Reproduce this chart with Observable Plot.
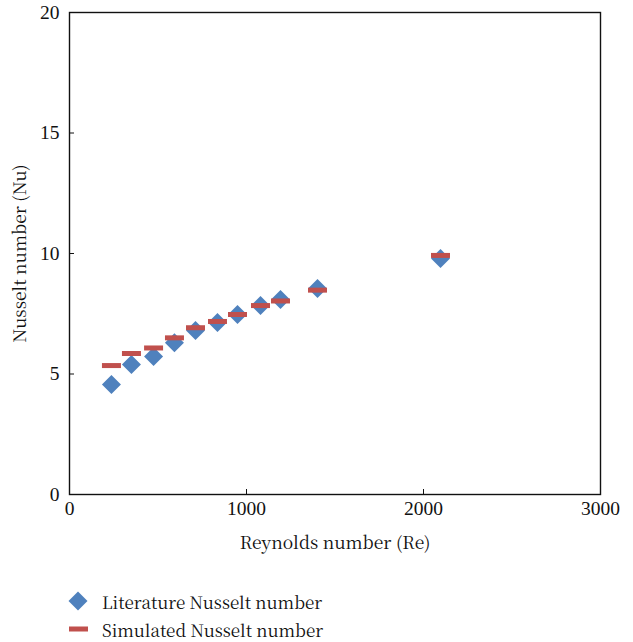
<!DOCTYPE html>
<html><head><meta charset="utf-8">
<script src="https://cdn.jsdelivr.net/npm/d3@7"></script>
<script src="https://cdn.jsdelivr.net/npm/@observablehq/plot@0.6"></script>
</head><body style="margin:0;background:#fff;">
<div id="chart"></div>
<div id="legend" style="position:absolute;left:67px;top:587px;font-size:17px;color:#111;font-family:'Noto Serif CJK SC','Liberation Serif',serif;">
<div style="display:flex;align-items:center;height:28px;"><svg width="22" height="22" style="margin-right:13px"><path d="M11,1.5L20.5,11L11,20.5L1.5,11Z" fill="#4f81bd"/></svg>Literature Nusselt number</div>
<div style="display:flex;align-items:center;height:28px;"><svg width="22" height="22" style="margin-right:13px"><rect x="2" y="8.5" width="19" height="5" fill="#c0504d"/></svg>Simulated Nusselt number</div>
</div>
<script>
const reynolds = [237, 350, 475, 593, 712, 836, 949, 1079, 1192, 1401, 2096];
const literatureNu = [4.56, 5.39, 5.73, 6.30, 6.80, 7.14, 7.47, 7.84, 8.09, 8.55, 9.79];
const simulatedNu = [5.35, 5.85, 6.08, 6.50, 6.92, 7.18, 7.47, 7.84, 8.03, 8.48, 9.92];
const xTicks = [0, 1000, 2000, 3000];
const yTicks = [0, 5, 10, 15, 20];

const rows = reynolds.map((re, i) => ({re, lit: literatureNu[i], sim: simulatedNu[i]}));

const diamond = {draw(ctx, size){ const h = Math.sqrt(size/Math.PI); ctx.moveTo(0,-h); ctx.lineTo(h,0); ctx.lineTo(0,h); ctx.lineTo(-h,0); ctx.closePath(); }};
const dash = {draw(ctx, size){ const h = Math.sqrt(size/Math.PI); const v = 2.5; ctx.moveTo(-h,-v); ctx.lineTo(h,-v); ctx.lineTo(h,v); ctx.lineTo(-h,v); ctx.closePath(); }};

const FONT = "'Noto Serif CJK SC', 'Liberation Serif', serif";
const TICKFONT = "'Liberation Serif', serif";
const chart = Plot.plot({
  width: 633, height: 560,
  marginLeft: 69, marginRight: 33, marginTop: 12, marginBottom: 66,
  style: {fontSize: "17.5px", color: "#111", background: "#fff"},
  x: {domain: [0, 3000]},
  y: {domain: [0, 20]},
  marks: [
    Plot.axisX(xTicks, {tickSize: -5, tickPadding: 12, tickFormat: d3.format("d"), fontSize: 19.5, label: null, stroke: "#111"}),
    Plot.axisX({ticks: [], label: "Reynolds number (Re)", labelAnchor: "center", labelArrow: "none", labelOffset: 54}),
    Plot.axisY(yTicks, {tickSize: -5, tickPadding: 15, tickFormat: d3.format("d"), fontSize: 19.5, label: null, stroke: "#111"}),
    Plot.axisY({ticks: [], label: "Nusselt number (Nu)", labelAnchor: "center", labelArrow: "none", labelOffset: 56}),
    Plot.frame({stroke: "#111", strokeWidth: 1.4}),
    Plot.dot(rows, {x: "re", y: "lit", symbol: diamond, r: 9.5, fill: "#4f81bd", stroke: "none"}),
    Plot.dot(rows, {x: "re", y: "sim", symbol: dash, r: 9.5, fill: "#c0504d", stroke: "none"})
  ]
});
chart.setAttribute("font-family", FONT);
chart.style.fontFamily = FONT;
d3.select(chart).selectAll("text").style("font-family", FONT);
d3.select(chart).selectAll("g[aria-label$='tick label'] text").style("font-family", TICKFONT);
document.getElementById("chart").append(chart);
</script>
</body></html>
